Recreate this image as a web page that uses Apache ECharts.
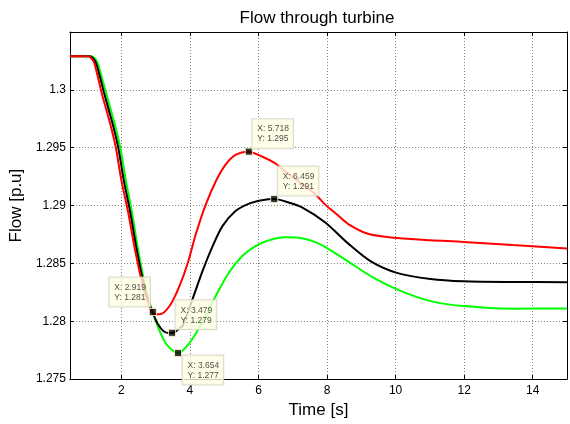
<!DOCTYPE html>
<html>
<head>
<meta charset="utf-8">
<script src="https://cdn.jsdelivr.net/npm/echarts@6/dist/echarts.min.js"></script>
<style>html,body{margin:0;padding:0;background:#fff;}#c{width:570px;height:424px;}</style>
</head>
<body>
<div id="c"></div>
<script>
// ---- data ----
const titleText = 'Flow through turbine';
const xName = 'Time [s]';
const yName = 'Flow [p.u]';
const xTicks = [2, 4, 6, 8, 10, 12, 14];

const timeRed = [0.5, 1.0, 1.1, 1.2, 1.3, 1.42, 1.55, 1.69, 1.84, 2.0, 2.2, 2.41, 2.6, 2.75, 2.88, 2.98, 3.13, 3.42, 3.70, 3.94, 4.18, 4.47, 4.76, 5.04, 5.33, 5.71, 6.10, 6.48, 6.72, 7.2, 7.65, 7.94, 8.3, 8.62, 9.19, 9.96, 11.02, 11.98, 13.42, 15];
const flowRed = [1.3029, 1.3029, 1.3028, 1.3024, 1.3013, 1.2998, 1.2984, 1.2969, 1.2950, 1.2922, 1.2894, 1.2860, 1.2834, 1.2818, 1.2809, 1.2806, 1.2806, 1.28138, 1.28308, 1.28506, 1.2876, 1.29014, 1.29212, 1.29353, 1.29438, 1.29466, 1.29424, 1.29367, 1.2931, 1.2920, 1.2910, 1.2901, 1.2892, 1.2884, 1.28756, 1.28722, 1.2870, 1.28686, 1.28658, 1.28629];

const timeBlack = [0.5, 1.05, 1.15, 1.25, 1.36, 1.49, 1.62, 1.76, 1.91, 2.07, 2.26, 2.46, 2.64, 2.78, 2.919, 3.08, 3.27, 3.48, 3.62, 3.8, 4.11, 4.37, 4.66, 4.95, 5.33, 5.71, 6.10, 6.459, 6.86, 7.27, 7.94, 8.62, 9.29, 10.06, 11.02, 11.98, 13.42, 15];
const flowBlack = [1.3029, 1.3029, 1.3028, 1.3024, 1.3013, 1.2998, 1.2984, 1.2969, 1.2950, 1.2922, 1.2894, 1.2860, 1.2834, 1.2818, 1.2807, 1.2797, 1.27907, 1.27898, 1.2792, 1.2797, 1.2822, 1.28435, 1.28647, 1.28822, 1.28952, 1.29014, 1.29045, 1.29056, 1.29028, 1.28985, 1.28856, 1.28671, 1.28515, 1.28416, 1.28365, 1.28345, 1.28339, 1.28338];

const timeGreen = [0.5, 1.1, 1.2, 1.3, 1.41, 1.55, 1.68, 1.82, 1.97, 2.13, 2.31, 2.50, 2.67, 2.80, 2.92, 3.08, 3.32, 3.654, 3.99, 4.37, 4.76, 5.14, 5.52, 5.90, 6.29, 6.77, 7.17, 7.6, 7.94, 8.62, 9.29, 10.06, 11.02, 11.98, 13.42, 15];
const flowGreen = [1.3029, 1.3029, 1.3028, 1.3024, 1.3013, 1.2998, 1.2984, 1.2969, 1.2950, 1.2922, 1.2894, 1.2860, 1.2834, 1.2818, 1.2808, 1.27941, 1.27799, 1.27725, 1.27814, 1.27997, 1.28223, 1.28421, 1.28562, 1.28647, 1.28698, 1.28726, 1.28722, 1.2869, 1.28643, 1.28515, 1.28388, 1.28274, 1.28174, 1.28131, 1.28109, 1.2811];

const tipX = [2.919, 3.479, 3.654, 5.718, 6.459];
const tipY = [1.2808, 1.2790, 1.27725, 1.29466, 1.29056];

// ---- build ----
const zip = (a, b) => a.map((v, i) => [v, b[i]]);
const FONT = 'Liberation Sans, Arial, Helvetica, sans-serif';
const tipPos = [[-39.5, -30.5], [7.5, -28.5], [8.5, 6.5], [7.5, -28.5], [7.5, -28.5]];

const chart = echarts.init(document.getElementById('c'), null, {renderer: 'canvas'});

const baseX = {
  type: 'value', min: 0.5, max: 15,
  axisLine: {show: true, onZero: false, lineStyle: {color: '#000', width: 1}},
  axisTick: {show: true, inside: true, length: 4, customValues: xTicks, lineStyle: {color: '#000'}},
};
const baseY = {
  type: 'value', min: 1.275, max: 1.305, interval: 0.005,
  axisLine: {show: true, onZero: false, lineStyle: {color: '#000', width: 1}},
  axisTick: {show: true, inside: true, length: 4, lineStyle: {color: '#000'}},
};

function lineSeries(name, t, v, color) {
  return {
    type: 'line', name: name, data: zip(t, v), smooth: 0.3, symbol: 'none',
    lineStyle: {color: color, width: 2}, itemStyle: {color: color}, animation: false
  };
}

chart.setOption({
  animation: false,
  backgroundColor: '#fff',
  title: {
    text: titleText, left: 312, top: 5, textAlign: 'center',
    textStyle: {fontFamily: FONT, fontSize: 17, fontWeight: 'normal', color: '#000'}
  },
  grid: {left: 66, right: 3, top: 32, bottom: 40, containLabel: false},
  xAxis: [
    Object.assign({}, baseX, {
      position: 'bottom',
      name: xName, nameLocation: 'middle', nameGap: 19,
      nameTextStyle: {fontFamily: FONT, fontSize: 17, color: '#000'},
      axisLabel: {show: true, customValues: xTicks, margin: 6, fontFamily: FONT, fontSize: 12, color: '#000'},
      splitLine: {show: true, lineStyle: {color: '#808080', type: [1, 2], width: 1}}
    }),
    Object.assign({}, baseX, {
      position: 'top',
      axisLabel: {show: false}, splitLine: {show: false}
    })
  ],
  yAxis: [
    Object.assign({}, baseY, {
      position: 'left',
      name: yName, nameLocation: 'middle', nameGap: 36,
      nameTextStyle: {fontFamily: FONT, fontSize: 17, color: '#000'},
      axisLabel: {show: true, showMaxLabel: false, margin: 4, fontFamily: FONT, fontSize: 12, color: '#000'},
      splitLine: {show: true, lineStyle: {color: '#808080', type: [1, 2], width: 1}}
    }),
    Object.assign({}, baseY, {
      position: 'right',
      axisLabel: {show: false}, splitLine: {show: false}
    })
  ],
  series: [
    lineSeries('green', timeGreen, flowGreen, '#00ff00'),
    lineSeries('black', timeBlack, flowBlack, '#000000'),
    lineSeries('red', timeRed, flowRed, '#ff0000'),
    {
      type: 'scatter', z: 10, animation: false,
      symbol: 'rect', symbolSize: 7,
      itemStyle: {color: '#000', borderColor: '#ffffd0', borderWidth: 1},
      data: tipX.map((x, i) => ({
        value: [x, tipY[i]],
        label: {position: tipPos[i]}
      })),
      label: {
        show: true,
        formatter: p => 'X: ' + p.value[0].toFixed(3) + '\nY: ' + p.value[1].toFixed(3),
        fontFamily: FONT, fontSize: 8.5, lineHeight: 10, color: '#222',
        backgroundColor: '#ffffe4', borderColor: '#cfcfbf', borderWidth: 1,
        padding: [5, 4, 4, 5], align: 'left', verticalAlign: 'top'
      },
      emphasis: {disabled: true}
    }
  ]
});
</script>
</body>
</html>
